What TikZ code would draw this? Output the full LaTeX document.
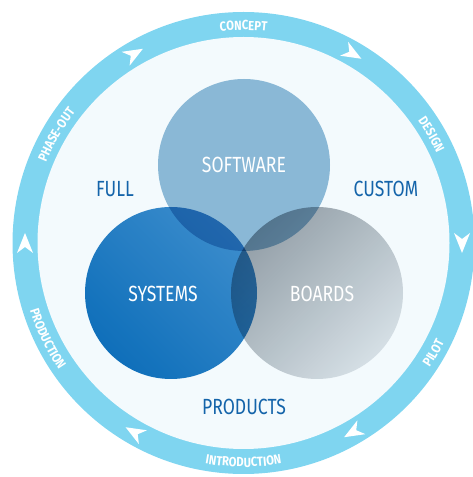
\documentclass[tikz,border=0pt]{standalone}
\usepackage{fontspec}
\setmainfont{Fira Sans}[FakeStretch=0.8]
\newfontfamily\ringfont{Fira Sans}[FakeStretch=0.85, LetterSpace=6]
\usetikzlibrary{decorations.text}

\definecolor{ringblue}{RGB}{127,213,240}
\definecolor{innerblue}{RGB}{243,250,253}
\definecolor{softblue}{RGB}{138,184,214}
\definecolor{sysdark}{RGB}{16,114,188}
\definecolor{syslight}{RGB}{62,143,206}
\definecolor{brddark}{RGB}{155,163,170}
\definecolor{brdlight}{RGB}{224,228,231}
\definecolor{textblue}{RGB}{20,100,170}

\begin{document}
\begin{tikzpicture}[x=0.02cm, y=0.02cm,
  ringtext/.style={decorate, decoration={text along path, text align=center,
    text color=white, text={|\ringfont\fontsize{7.5}{7.5}\selectfont\bfseries|#1}}},
  vennlabel/.style={text=white, font=\fontsize{12.5}{12.5}\selectfont},
  sidelabel/.style={text=textblue, font=\fontsize{12.5}{12.5}\selectfont}]

\useasboundingbox (0,0) rectangle (473,477);
\coordinate (c) at (243.5,234);

% cycle ring
\fill[ringblue] (c) circle [radius=231];
\fill[innerblue] (c) circle [radius=206];

\foreach \a in {0,60,...,300}
  \fill[white, shift={(c)}, shift={(\a:218.5)}, rotate=\a-90]
    (10,0) -- (-10,8) -- (-4,0) -- (-10,-8) -- cycle;

\path[ringtext=CONCEPT] (c) ++(125:213) arc [start angle=125, end angle=55, radius=213];
\path[ringtext=DESIGN] (c) ++(65:213) arc [start angle=65, end angle=-5, radius=213];
\path[ringtext=PHASE-OUT] (c) ++(185:213) arc [start angle=185, end angle=115, radius=213];
\path[ringtext=PILOT] (c) ++(-65:224) arc [start angle=-65, end angle=5, radius=224];
\path[ringtext=INTRODUCTION] (c) ++(-125:224) arc [start angle=-125, end angle=-55, radius=224];
\path[ringtext=PRODUCTION] (c) ++(-189:224) arc [start angle=-189, end angle=-119, radius=224];

% venn circles
\fill[softblue] (244,312) circle [radius=86];
\begin{scope}[blend mode=multiply]
\shade[top color=syslight, bottom color=sysdark, shading angle=-45] (171,184) circle [radius=86];
\shade[top color=brddark, bottom color=brdlight, shading angle=45] (317,184) circle [radius=86];
\end{scope}

\node[vennlabel] (software) at (244,312) {SOFTWARE};
\node[vennlabel] (systems) at (163,183) {SYSTEMS};
\node[vennlabel] (boards) at (322,183) {BOARDS};

\node[sidelabel] (full) at (115,288) {FULL};
\node[sidelabel] (custom) at (386,288) {CUSTOM};
\node[sidelabel] (products) at (244,70) {PRODUCTS};

\end{tikzpicture}
\end{document}
